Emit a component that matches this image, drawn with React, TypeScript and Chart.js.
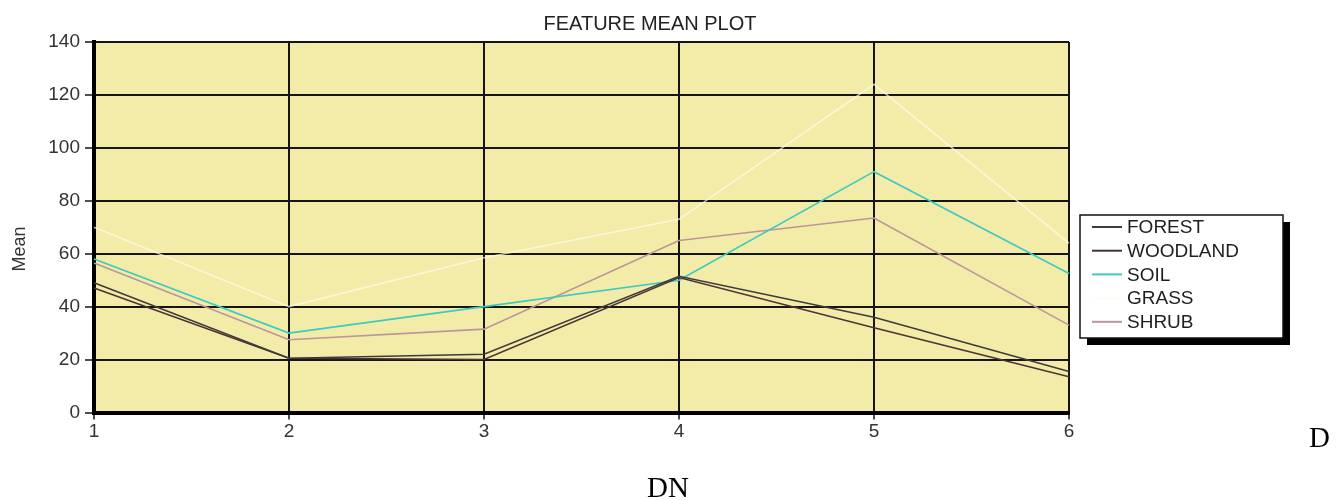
import React, { useEffect, useRef } from 'react';
import { Chart, registerables } from 'chart.js';

Chart.register(...registerables);

// ---- data ----
const categories = ['1', '2', '3', '4', '5', '6'];
const forest = [49, 20.5, 22, 51.5, 36, 15.5];
const woodland = [47, 20.5, 20, 51, 32, 13.5];
const soil = [58, 30, 40, 50, 91, 52.5];
const grass = [70, 40, 58.5, 73, 124, 64];
const shrub = [56.5, 27.5, 31.5, 65, 73.5, 33];
const seriesNames = ['FOREST', 'WOODLAND', 'SOIL', 'GRASS', 'SHRUB'];
const seriesColors = ['#3c3c3c', '#4a3434', '#3ccac2', 'rgba(253,252,240,0.7)', '#bc949c'];
const yMin = 0;
const yMax = 140;
const yStep = 20;
const titleText = 'FEATURE MEAN PLOT';
const yTitle = 'Mean';
const xCaption = 'DN';
const sideLetter = 'D';

const SANS = '"Liberation Sans", Arial, sans-serif';
const SERIF = '"Liberation Serif", "Times New Roman", serif';

const decorPlugin = {
  id: 'decor',
  beforeDraw(chart: any) {
    const { ctx, chartArea: a } = chart;
    ctx.save();
    ctx.fillStyle = '#ffffff';
    ctx.fillRect(0, 0, chart.width, chart.height);
    ctx.fillStyle = '#f2eca8';
    ctx.fillRect(a.left, a.top, a.right - a.left, a.bottom - a.top);
    ctx.restore();
  },
  afterDraw(chart: any) {
    const { ctx } = chart;
    ctx.save();
    // title
    ctx.fillStyle = '#222';
    ctx.font = `20px ${SANS}`;
    ctx.textAlign = 'center';
    ctx.textBaseline = 'alphabetic';
    ctx.fillText(titleText, 650, 30);

    // y title
    ctx.save();
    ctx.translate(25, 249);
    ctx.rotate(-Math.PI / 2);
    ctx.font = `18px ${SANS}`;
    ctx.fillStyle = '#333';
    ctx.textAlign = 'center';
    ctx.textBaseline = 'alphabetic';
    ctx.fillText(yTitle, 0, 0);
    ctx.restore();

    // legend box with shadow
    const bx = 1080, by = 215, bw = 203, bh = 123, sh = 7;
    ctx.fillStyle = '#000';
    ctx.fillRect(bx + sh, by + sh, bw, bh);
    ctx.fillStyle = '#fff';
    ctx.fillRect(bx, by, bw, bh);
    ctx.strokeStyle = '#111';
    ctx.lineWidth = 1.5;
    ctx.strokeRect(bx, by, bw, bh);

    const ds = chart.data.datasets;
    ctx.font = `19px ${SANS}`;
    ctx.textAlign = 'left';
    ctx.textBaseline = 'middle';
    for (let i = 0; i < ds.length; i++) {
      const y = 227 + i * 23.7;
      ctx.strokeStyle = ds[i].borderColor;
      ctx.lineWidth = 2;
      ctx.beginPath();
      ctx.moveTo(1092, y);
      ctx.lineTo(1122, y);
      ctx.stroke();
      ctx.fillStyle = '#1e1e1e';
      ctx.fillText(ds[i].label, 1127, y + 1);
    }

    // document text around the figure
    ctx.fillStyle = '#000';
    ctx.font = `29px ${SERIF}`;
    ctx.textAlign = 'left';
    ctx.textBaseline = 'alphabetic';
    ctx.fillText(sideLetter, 1309, 447);
    ctx.fillText(xCaption, 647, 497);
    ctx.restore();
  },
};

export default function App() {
  const ref = useRef<HTMLCanvasElement | null>(null);

  useEffect(() => {
    if (!ref.current) return;
    const series = [forest, woodland, soil, grass, shrub];
    const chart = new Chart(ref.current, {
      type: 'line',
      data: {
        labels: categories,
        datasets: series.map((d, i) => ({
          label: seriesNames[i],
          data: d,
          borderColor: seriesColors[i],
          backgroundColor: seriesColors[i],
          borderWidth: i === 3 ? 1.6 : 1.6,
          pointRadius: 0,
          tension: 0,
          fill: false,
        })),
      },
      options: {
        responsive: false,
        animation: false,
        devicePixelRatio: 1,
        layout: { padding: { top: 42, right: 275, bottom: 57.5, left: 0 } },
        plugins: {
          legend: { display: false },
          title: { display: false },
          tooltip: { enabled: false },
        },
        scales: {
          x: {
            type: 'category',
            offset: false,
            grid: {
              color: '#151515',
              lineWidth: 2,
              tickLength: 7,
              tickWidth: 1.5,
              drawTicks: true,
            },
            border: { color: '#000', width: 4 },
            ticks: {
              color: '#333',
              font: { family: SANS, size: 19 },
              padding: 1,
              maxRotation: 0,
            },
            afterFit(scale: any) {
              scale.height = 30;
            },
          },
          y: {
            type: 'linear',
            min: yMin,
            max: yMax,
            grid: {
              color: '#151515',
              lineWidth: 2,
              tickLength: 9,
              tickWidth: 1.5,
            },
            border: { color: '#000', width: 4 },
            ticks: {
              stepSize: yStep,
              color: '#333',
              font: { family: SANS, size: 19 },
              padding: 5,
            },
            afterFit(scale: any) {
              scale.width = 94;
            },
          },
        },
      },
      plugins: [decorPlugin],
    });
    return () => chart.destroy();
  }, []);

  return (
    <div style={{ position: 'absolute', left: 0, top: 0, width: 1344, height: 500, background: '#fff' }}>
      <canvas ref={ref} width={1344} height={500} style={{ display: 'block', width: 1344, height: 500 }} />
    </div>
  );
}
